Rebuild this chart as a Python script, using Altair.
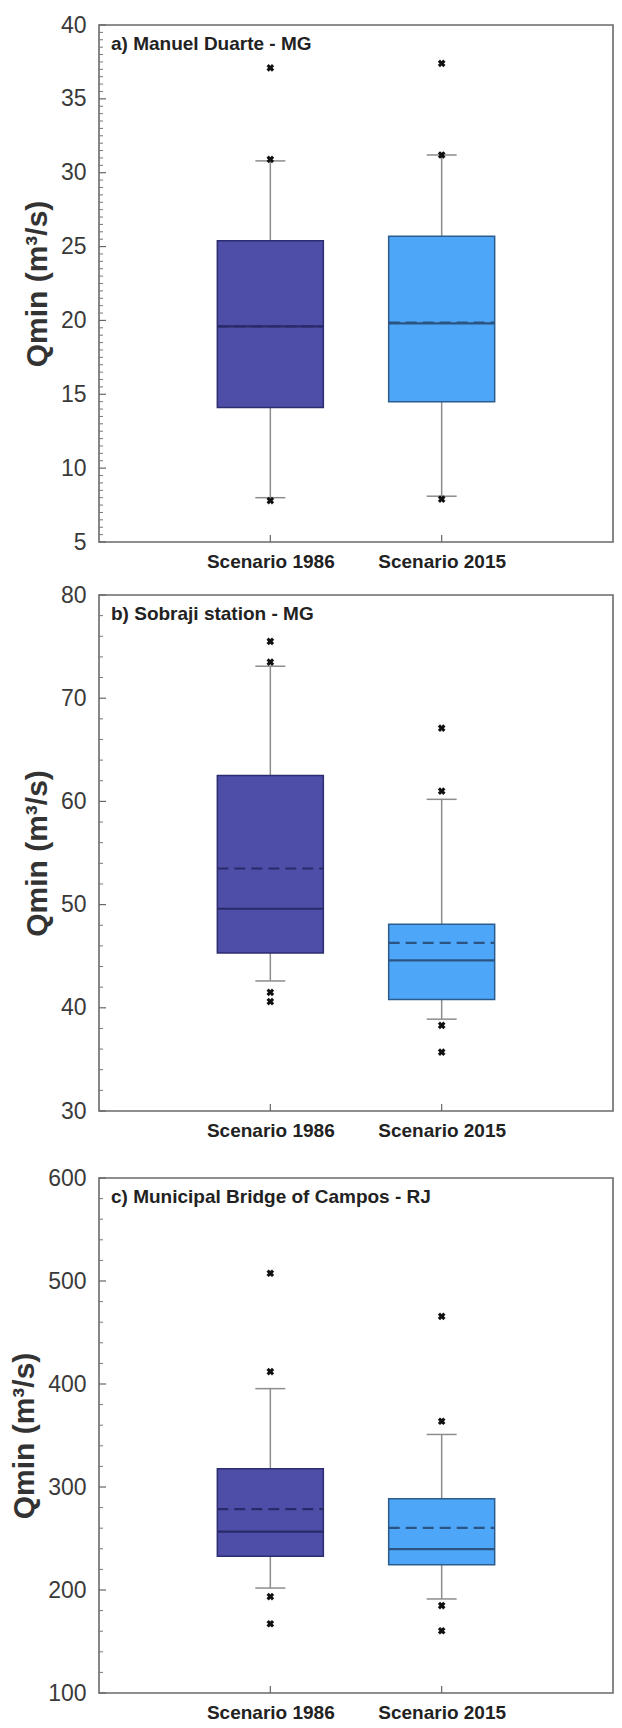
import altair as alt
import pandas as pd
import numpy as np

CATEGORIES = ["Scenario 1986", "Scenario 2015"]

# Panel a) Manuel Duarte - MG
A_TITLE = "a) Manuel Duarte - MG"
A_LOWER = [8.0, 8.1]
A_Q1 = [14.1, 14.5]
A_MEDIAN = [19.6, 19.8]
A_MEAN = [19.6, 19.85]
A_Q3 = [25.4, 25.7]
A_UPPER = [30.8, 31.2]
A_OUT_1986 = [37.1, 30.9, 7.8]
A_OUT_2015 = [37.4, 31.2, 7.9]
A_DOMAIN = [5, 40]
A_TICKS = [5, 10, 15, 20, 25, 30, 35, 40]
A_MINOR_STEP = 0.5

# Panel b) Sobraji station - MG
B_TITLE = "b) Sobraji station - MG"
B_LOWER = [42.6, 38.9]
B_Q1 = [45.3, 40.8]
B_MEDIAN = [49.6, 44.6]
B_MEAN = [53.5, 46.3]
B_Q3 = [62.5, 48.1]
B_UPPER = [73.1, 60.2]
B_OUT_1986 = [75.5, 73.5, 41.5, 40.6]
B_OUT_2015 = [67.1, 61.0, 38.3, 35.7]
B_DOMAIN = [30, 80]
B_TICKS = [30, 40, 50, 60, 70, 80]
B_MINOR_STEP = 2

# Panel c) Municipal Bridge of Campos - RJ
C_TITLE = "c) Municipal Bridge of Campos - RJ"
C_LOWER = [201.9, 191.3]
C_Q1 = [232.8, 224.5]
C_MEDIAN = [256.6, 239.6]
C_MEAN = [278.5, 260.4]
C_Q3 = [317.7, 288.7]
C_UPPER = [395.5, 351.0]
C_OUT_1986 = [507.5, 412.0, 193.6, 167.2]
C_OUT_2015 = [465.7, 363.8, 184.9, 160.4]
C_DOMAIN = [100, 600]
C_TICKS = [100, 200, 300, 400, 500, 600]
C_MINOR_STEP = 20

FILLS = ["#4E4EA8", "#4DA6F8"]
STROKES = ["#2C2C70", "#2D5C8C"]
LINES = ["#2A2A6A", "#2B5482"]
WHISKER = "#8C8C8C"
FONT = "Liberation Sans"

W = 514
BOX = 106
CAP = 30


def panel(title, lower, q1, med, mean, q3, upper, out86, out15, domain, ticks, minor_step, height):
    stats = pd.DataFrame({
        "cat": CATEGORIES, "lower": lower, "q1": q1, "median": med,
        "mean": mean, "q3": q3, "upper": upper,
    })
    outl = pd.DataFrame({
        "cat": [CATEGORIES[0]] * len(out86) + [CATEGORIES[1]] * len(out15),
        "value": list(out86) + list(out15),
    })
    minor = [v for v in np.arange(domain[0], domain[1] + 1e-9, minor_step)
             if v not in ticks]
    major_df = pd.DataFrame({"v": ticks})
    minor_df = pd.DataFrame({"v": minor})
    title_df = pd.DataFrame({"t": [title]})

    xs = alt.Scale(type="point", padding=1, domain=CATEGORIES)
    ys = alt.Scale(domain=domain, nice=False, zero=False)
    xaxis = alt.Axis(title=None, ticks=False, tickSize=0, domain=False, labelAngle=0,
                     labelFontSize=19, labelFontWeight="bold", labelColor="#222222",
                     labelPadding=10, labelFont=FONT)
    yaxis = alt.Axis(values=ticks, ticks=False, tickSize=0, domain=False, grid=False,
                     labelFontSize=23, labelColor="#3a3a3a", labelPadding=13,
                     labelFont=FONT, title="Qmin (m³/s)", titleFontSize=30,
                     titleFontWeight="bold", titleColor="#333333", titleFont=FONT,
                     titlePadding=8)
    fill_s = alt.Scale(domain=CATEGORIES, range=FILLS)
    stroke_s = alt.Scale(domain=CATEGORIES, range=STROKES)
    line_s = alt.Scale(domain=CATEGORIES, range=LINES)

    base = alt.Chart(stats)
    X = alt.X("cat:N", scale=xs, axis=xaxis, sort=CATEGORIES)

    whisk = base.mark_rule(color=WHISKER, strokeWidth=1.5).encode(
        x=X, y=alt.Y("lower:Q", scale=ys, axis=yaxis), y2="upper:Q")
    cap_lo = base.mark_rule(color=WHISKER, strokeWidth=1.5, xOffset=-CAP / 2, x2Offset=CAP / 2).encode(
        x=X, x2=alt.X2("cat:N"), y=alt.Y("lower:Q"))
    cap_hi = base.mark_rule(color=WHISKER, strokeWidth=1.5, xOffset=-CAP / 2, x2Offset=CAP / 2).encode(
        x=X, x2=alt.X2("cat:N"), y=alt.Y("upper:Q"))
    box = base.mark_bar(size=BOX, strokeWidth=1.5).encode(
        x=X, y=alt.Y("q1:Q"), y2="q3:Q",
        fill=alt.Fill("cat:N", scale=fill_s, legend=None),
        stroke=alt.Stroke("cat:N", scale=stroke_s, legend=None))
    med_l = base.mark_rule(strokeWidth=2.2, xOffset=-BOX / 2, x2Offset=BOX / 2).encode(
        x=X, x2=alt.X2("cat:N"), y=alt.Y("median:Q"),
        color=alt.Color("cat:N", scale=line_s, legend=None))
    mean_l = base.mark_rule(strokeWidth=2.2, strokeDash=[11, 6], xOffset=-BOX / 2, x2Offset=BOX / 2).encode(
        x=X, x2=alt.X2("cat:N"), y=alt.Y("mean:Q"),
        color=alt.Color("cat:N", scale=line_s, legend=None))
    pts = alt.Chart(outl).mark_point(shape="cross", angle=45, filled=True, color="#111111",
                                     size=60, opacity=1).encode(
        x=X, y=alt.Y("value:Q"))
    maj = alt.Chart(major_df).mark_rule(color="#666666", strokeWidth=1.2).encode(
        x=alt.value(0), x2=alt.value(7), y=alt.Y("v:Q"))
    mnr = alt.Chart(minor_df).mark_rule(color="#777777", strokeWidth=1).encode(
        x=alt.value(0), x2=alt.value(4), y=alt.Y("v:Q"))
    xt = alt.Chart(pd.DataFrame({"cat": CATEGORIES})).mark_rule(color="#666666", strokeWidth=1.2).encode(
        x=X, y=alt.value(height), y2=alt.value(height - 7))
    ttl = alt.Chart(title_df).mark_text(align="left", baseline="middle", fontSize=19,
                                        fontWeight="bold", font=FONT, color="#222222").encode(
        x=alt.value(12), y=alt.value(19), text="t:N")

    return alt.layer(whisk, cap_lo, cap_hi, box, med_l, mean_l, pts, maj, mnr, xt, ttl).properties(
        width=W, height=height)


pa = panel(A_TITLE, A_LOWER, A_Q1, A_MEDIAN, A_MEAN, A_Q3, A_UPPER, A_OUT_1986, A_OUT_2015,
           A_DOMAIN, A_TICKS, A_MINOR_STEP, 517)
pb = panel(B_TITLE, B_LOWER, B_Q1, B_MEDIAN, B_MEAN, B_Q3, B_UPPER, B_OUT_1986, B_OUT_2015,
           B_DOMAIN, B_TICKS, B_MINOR_STEP, 516)
pc = panel(C_TITLE, C_LOWER, C_Q1, C_MEDIAN, C_MEAN, C_Q3, C_UPPER, C_OUT_1986, C_OUT_2015,
           C_DOMAIN, C_TICKS, C_MINOR_STEP, 515)

chart = alt.vconcat(alt.vconcat(pa, pb, spacing=11), pc, spacing=25).properties(
    padding={"left": 0, "top": 5, "right": 0, "bottom": 0}
).configure_view(stroke="#6a6a6a", strokeWidth=1.6)

chart.save("out.html", embed_options={"renderer": "svg", "actions": False})
